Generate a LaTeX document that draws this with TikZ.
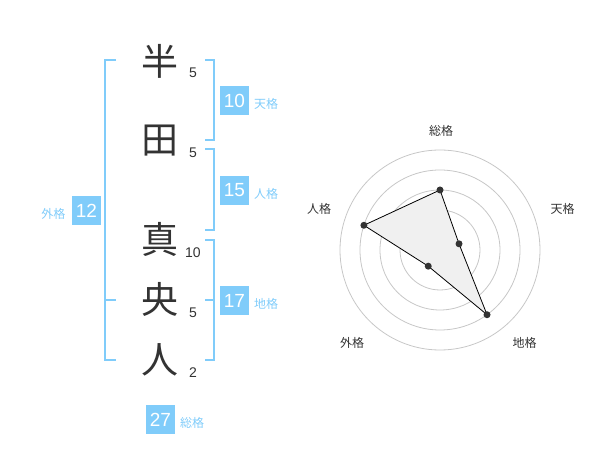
\documentclass[tikz,border=0pt]{standalone}
\usepackage{fontspec}
\setmainfont{Liberation Sans}
\newfontfamily\jp{Noto Sans CJK JP}
\usetikzlibrary{calc}
\definecolor{kakublue}{RGB}{128,204,250}
\definecolor{ink}{RGB}{51,51,51}
\tikzset{
  kanji/.style={font=\jp\fontsize{37}{37}\selectfont, text=ink, inner sep=0pt},
  kakusu/.style={font=\fontsize{14}{14}\selectfont, text=ink, inner sep=0pt},
  kakubox/.style={fill=kakublue, text=white, minimum size=29pt, inner sep=0pt, font=\fontsize{19}{19}\selectfont},
  kakuname/.style={font=\jp\fontsize{12}{12}\selectfont, text=kakublue, inner sep=0pt},
  bracket/.style={draw=kakublue, line width=2pt},
  ring/.style={draw=black!22, line width=0.8pt},
  axisname/.style={font=\jp\fontsize{12}{12}\selectfont, text=ink, inner sep=0pt},
  pt/.style={circle, fill=ink, inner sep=0pt, minimum size=7pt},
}

\begin{document}
\begin{tikzpicture}[x=1pt, y=-1pt]
\useasboundingbox (0,0) rectangle (600,470);
% name
\node[kanji] (k1) at (160,61) {半};
\node[kanji] (k2) at (160,141) {田};
\node[kanji] (k3) at (160,239) {真};
\node[kanji] (k4) at (160,299) {央};
\node[kanji] (k5) at (160,360) {人};
\node[kakusu] (s1) at (193,73) {5};
\node[kakusu] (s2) at (193,153) {5};
\node[kakusu] (s3) at (193,253) {10};
\node[kakusu] (s4) at (193,313) {5};
\node[kakusu] (s5) at (193,373) {2};
% brackets
\draw[bracket] (205,60) -- (214,60) -- (214,140) -- (205,140);
\draw[bracket] (205,149) -- (214,149) -- (214,230) -- (205,230);
\draw[bracket] (205,240) -- (214,240) -- (214,360) -- (205,360);
\draw[bracket] (205,300) -- (214,300);
\draw[bracket] (116,60) -- (105,60) -- (105,360) -- (116,360);
\draw[bracket] (105,300) -- (116,300);
% kaku
\node[kakubox] (ten) at (234.5,100.5) {10};
\node[kakuname] (tenn) at (266,104) {天格};
\node[kakubox] (jin) at (234.5,190.5) {15};
\node[kakuname] (jinn) at (266,194) {人格};
\node[kakubox] (chi) at (234.5,300.5) {17};
\node[kakuname] (chin) at (266,304) {地格};
\node[kakubox] (gai) at (86.5,210.5) {12};
\node[kakuname] (gain) at (53.5,213.5) {外格};
\node[kakubox] (sou) at (160.5,419.5) {27};
\node[kakuname] (soun) at (192,423) {総格};
% radar
\coordinate (c) at (440,250);
\foreach \r in {20,40,...,100}
  \draw[ring] (c) circle (\r);
\fill[black!20] (c) circle (3.5);
\coordinate (r1) at ($(c)+(-90:60)$);
\coordinate (r2) at ($(c)+(-18:20)$);
\coordinate (r3) at ($(c)+(54:80)$);
\coordinate (r4) at ($(c)+(126:20)$);
\coordinate (r5) at ($(c)+(198:80)$);
\draw[fill=black!6, line width=0.8pt] (r1) -- (r2) -- (r3) -- (r4) -- (r5) -- cycle;
\foreach \i in {1,...,5}
  \node[pt] at (r\i) {};
\node[axisname] (a1) at (441,131) {総格};
\node[axisname] (a2) at (562.5,208.5) {天格};
\node[axisname] (a3) at (524.5,342.5) {地格};
\node[axisname] (a4) at (352,342.5) {外格};
\node[axisname] (a5) at (319,208.5) {人格};
\end{tikzpicture}
\end{document}
